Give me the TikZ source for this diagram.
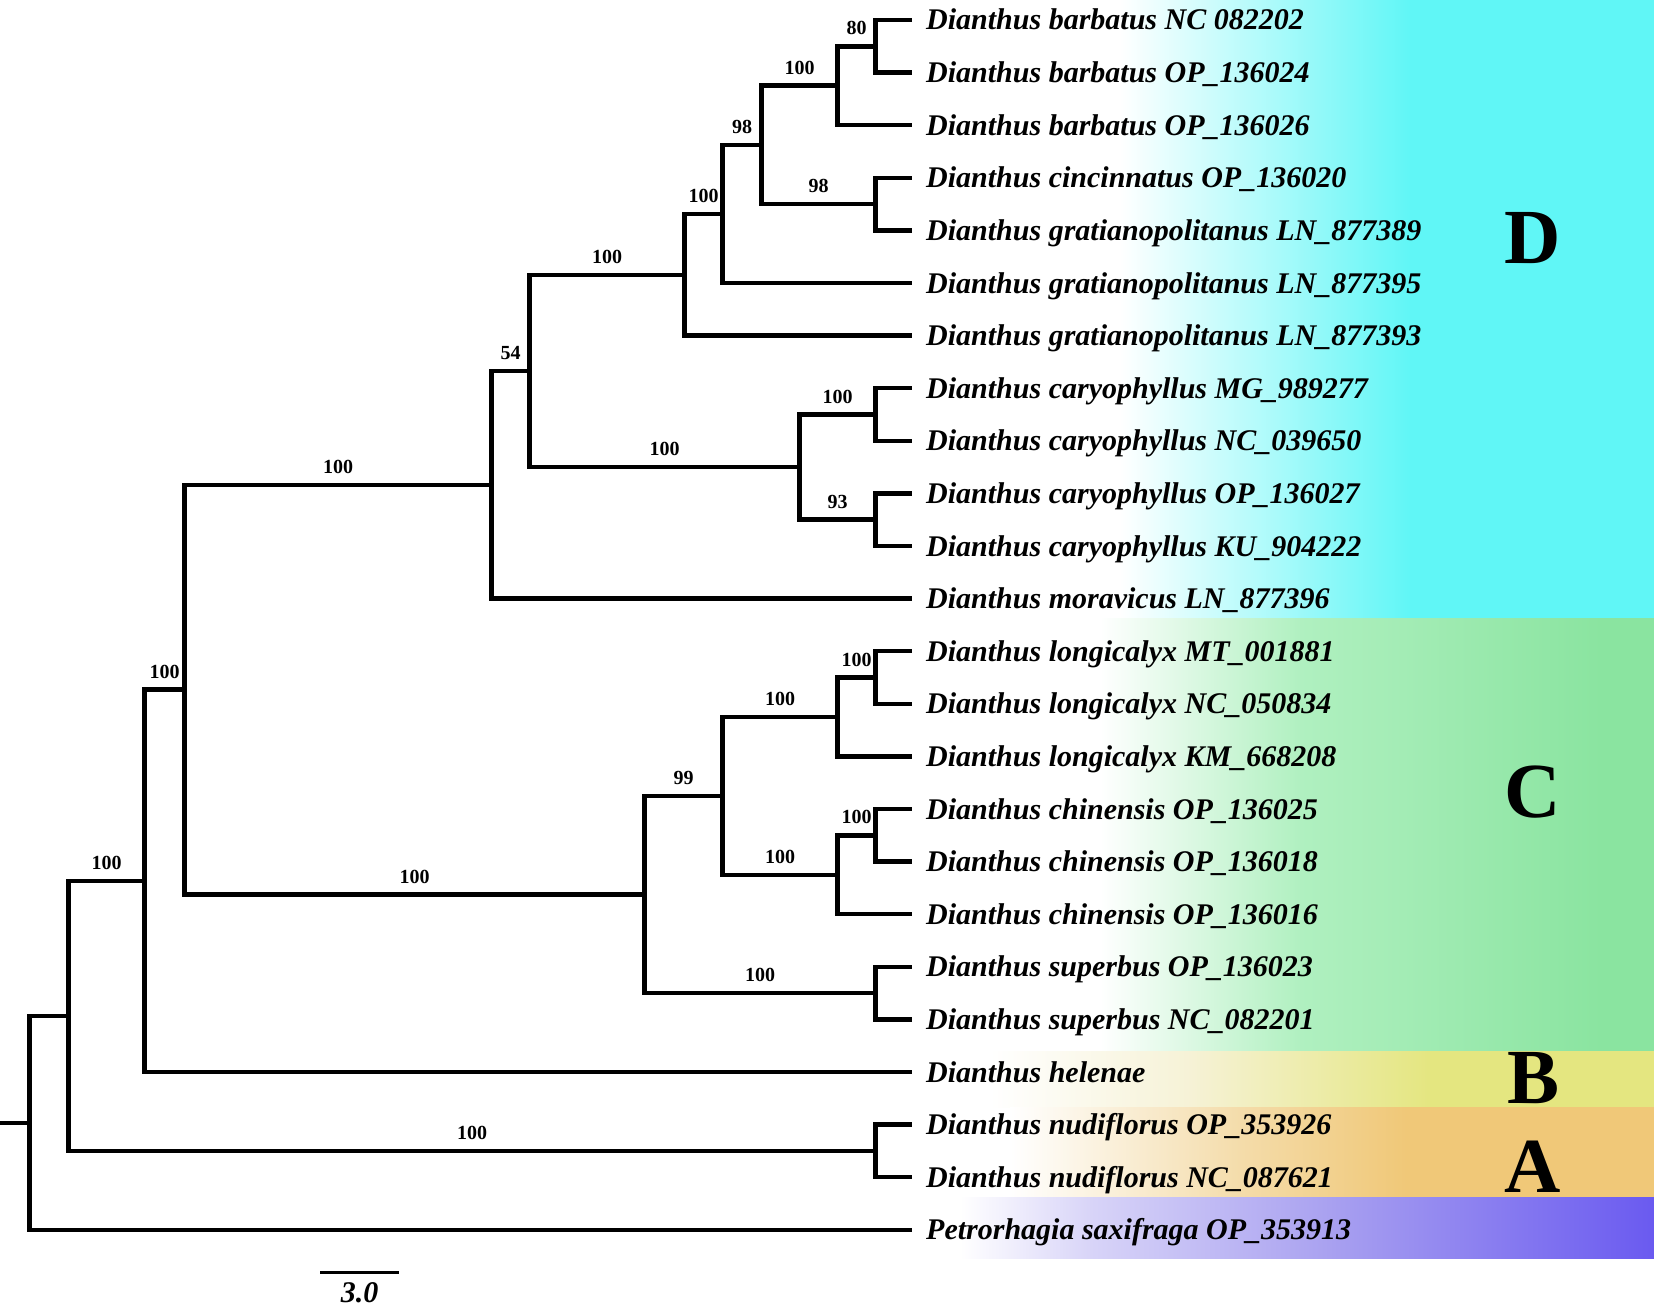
\documentclass[tikz,border=0pt]{standalone}
\usepackage{fontspec}
\setmainfont{Liberation Serif}
\usepackage{tikz}
\usetikzlibrary{positioning}

\definecolor{cladeD}{RGB}{96,246,246}
\definecolor{cladeCpale}{RGB}{176,240,192}
\definecolor{cladeC}{RGB}{138,228,160}
\definecolor{cladeBpale}{RGB}{246,242,214}
\definecolor{cladeB}{RGB}{228,230,128}
\definecolor{cladeApale}{RGB}{244,220,170}
\definecolor{cladeA}{RGB}{240,200,120}
\definecolor{outPlight}{RGB}{216,212,248}
\definecolor{outPpale}{RGB}{168,160,240}
\definecolor{outP}{RGB}{106,90,240}

\newcommand{\leaffont}{\fontsize{30}{36}\selectfont\bfseries\itshape}
\newcommand{\bootfont}{\fontsize{20}{24}\selectfont\bfseries}

\begin{document}
\begin{tikzpicture}[x=1pt, y=-1pt,
    branch/.style={line width=4.5pt},
    boot/.style={above, pos=.75, inner sep=9pt, font=\bootfont},
    leaf/.style={font=\leaffont, inner sep=0pt, text height=20pt, text depth=0pt},
    clade/.style={font=\fontsize{78}{80}\selectfont\bfseries, anchor=base, inner sep=0pt}]
    \useasboundingbox (0,0) rectangle (1654,1311);

    % Bande colorate dei cladi
    \shade[left color=white, right color=cladeD] (1120,0) rectangle (1411,618);
    \fill[cladeD] (1410,0) rectangle (1654,618);
    \shade[left color=white, right color=cladeCpale] (1100,618) rectangle (1301,1051);
    \shade[left color=cladeCpale, right color=cladeC] (1300,618) rectangle (1601,1051);
    \fill[cladeC] (1600,618) rectangle (1654,1051);
    \shade[left color=white, right color=cladeBpale] (990,1051) rectangle (1191,1107);
    \shade[left color=cladeBpale, right color=cladeB] (1190,1051) rectangle (1431,1107);
    \fill[cladeB] (1430,1051) rectangle (1654,1107);
    \shade[left color=white, right color=cladeApale] (1010,1107) rectangle (1241,1197);
    \shade[left color=cladeApale, right color=cladeA] (1240,1107) rectangle (1406,1197);
    \fill[cladeA] (1405,1107) rectangle (1654,1197);
    \shade[left color=white, right color=outPlight] (960,1197) rectangle (1091,1258);
    \shade[left color=outPlight, right color=outPpale] (1090,1197) rectangle (1334,1258);
    \shade[left color=outPpale, right color=outP] (1333,1197) rectangle (1654,1258);

    % Foglie
    \foreach \lab [count=\i from 0] in {
        Dianthus barbatus NC 082202,
        Dianthus barbatus OP\_136024,
        Dianthus barbatus OP\_136026,
        Dianthus cincinnatus OP\_136020,
        Dianthus gratianopolitanus LN\_877389,
        Dianthus gratianopolitanus LN\_877395,
        Dianthus gratianopolitanus LN\_877393,
        Dianthus caryophyllus MG\_989277,
        Dianthus caryophyllus NC\_039650,
        Dianthus caryophyllus OP\_136027,
        Dianthus caryophyllus KU\_904222,
        Dianthus moravicus LN\_877396,
        Dianthus longicalyx MT\_001881,
        Dianthus longicalyx NC\_050834,
        Dianthus longicalyx KM\_668208,
        Dianthus chinensis OP\_136025,
        Dianthus chinensis OP\_136018,
        Dianthus chinensis OP\_136016,
        Dianthus superbus OP\_136023,
        Dianthus superbus NC\_082201,
        Dianthus helenae,
        Dianthus nudiflorus OP\_353926,
        Dianthus nudiflorus NC\_087621,
        Petrorhagia saxifraga OP\_353913}
    {
        \coordinate (t\i) at (912,{20+52.6*\i});
        \node[leaf, right=14pt of t\i] (lab\i) {\lab};
    }

    % Nodi interni
    \coordinate (stub) at (0,1122.8);
    \coordinate (root) at (29.5,1122.8);
    \coordinate (n1) at (68.6,1015.85);
    \coordinate (n2) at (144.5,880.8);
    \coordinate (n3) at (184.6,689.6);
    \coordinate (n4) at (491.5,484.8);
    \coordinate (n5) at (529.5,370.95);
    \coordinate (n6) at (684.6,274.8);
    \coordinate (n7) at (722.5,213.95);
    \coordinate (n8) at (761.6,144.9);
    \coordinate (n9) at (837.5,85.75);
    \coordinate (n10) at (875.5,204.1);
    \coordinate (n11) at (875.5,46.3);
    \coordinate (ncar) at (799.5,467.1);
    \coordinate (n12) at (875.5,414.5);
    \coordinate (n13) at (875.5,519.7);
    \coordinate (nc) at (644.5,894.5);
    \coordinate (n14) at (722.5,795.85);
    \coordinate (n15) at (875.5,993.1);
    \coordinate (n16) at (837.5,716.95);
    \coordinate (n17) at (837.5,874.75);
    \coordinate (n18) at (875.5,677.5);
    \coordinate (n19) at (875.5,835.3);
    \coordinate (nnud) at (875.5,1150.9);

    % Rami
    \draw[branch] (stub) -- (root);
    \foreach \p/\c in {root/n1, root/t23, n2/t20, n4/t11, n6/t6, n7/t5, n9/t2,
        n11/t0, n11/t1, n10/t3, n10/t4, n12/t7, n12/t8, n13/t9, n13/t10,
        n16/t14, n18/t12, n18/t13, n17/t17, n19/t15, n19/t16,
        n15/t18, n15/t19, nnud/t21, nnud/t22}
        \draw[branch] (\p) |- (\c);
    \foreach \p/\c/\b in {n1/n2/100, n1/nnud/100, n2/n3/100, n3/n4/100, n3/nc/100,
        n4/n5/54, n5/n6/100, n5/ncar/100, n6/n7/100, n7/n8/98, n8/n9/100,
        n8/n10/98, n9/n11/80, ncar/n12/100, ncar/n13/93, nc/n14/99, nc/n15/100,
        n14/n16/100, n14/n17/100, n16/n18/100, n17/n19/100}
        \draw[branch] (\p) |- node[boot] {\b} (\c);

    % Lettere dei cladi
    \node[clade] (cD) at (1533,263) {D};
    \node[clade] (cC) at (1533,817) {C};
    \node[clade] (cB) at (1533,1103) {B};
    \node[clade] (cA) at (1533,1192) {A};

    % Barra di scala
    \coordinate (sbl) at (320,1272);
    \coordinate (sbr) at (399,1272);
    \draw[line width=3pt] (sbl) -- node[below, inner sep=9pt, font=\leaffont] {3.0} (sbr);
\end{tikzpicture}
\end{document}
